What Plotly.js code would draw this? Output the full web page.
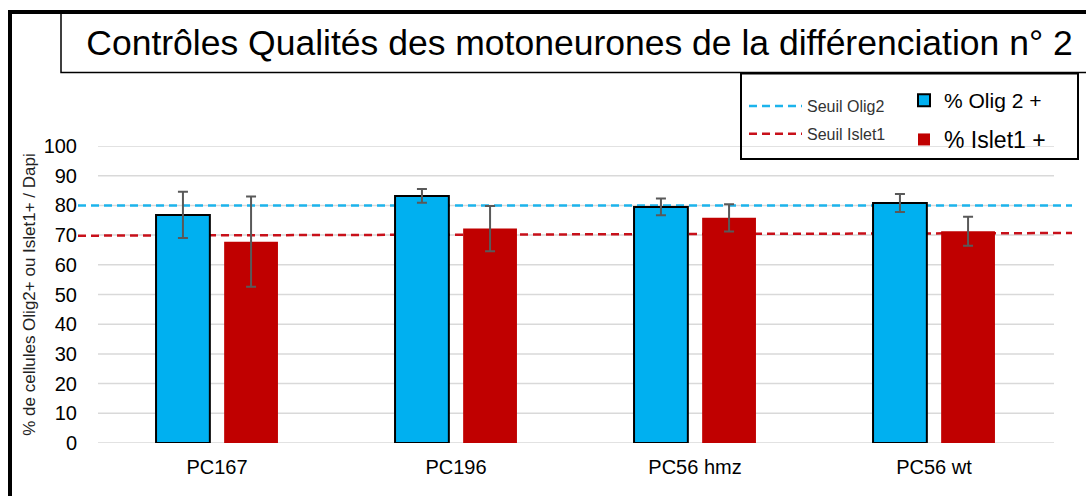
<!DOCTYPE html>
<html>
<head>
<meta charset="utf-8">
<script src="https://cdn.plot.ly/plotly-3.0.1.min.js"></script>
<style>html,body{margin:0;padding:0;background:#fff;}#chart{width:1086px;height:496px;}</style>
</head>
<body>
<div id="chart"></div>
<script>
// ---- data ----
const categories = ['PC167', 'PC196', 'PC56 hmz', 'PC56 wt'];
const olig2Values = [76.8, 83.2, 79.5, 80.8];
const olig2Errors = [7.8, 2.3, 2.8, 3.0];
const islet1Values = [67.8, 72.2, 75.8, 71.3];
const islet1Errors = [15.2, 7.6, 4.6, 4.9];
const seuilX = [0, 1];            // thresholds span the full width of the chart
const seuilOlig2 = [80, 80];
const seuilIslet1 = [69.8, 70.7];
const yTicks = [0, 10, 20, 30, 40, 50, 60, 70, 80, 90, 100];

// ---- geometry helpers (layout only) ----
const W = 1086, H = 496;
const mL = 78, mR = 14, mT = 146, mB = 53;
const pw = W - mL - mR, ph = H - mT - mB;
const px = x => (x - mL) / pw;
const py = y => (H - mB - y) / ph;
const catStep = 239, firstCat = 217;   // pixel spacing of categories

const FONT = 'Liberation Sans, Arial, sans-serif';

const traces = [
  {
    type: 'scatter', mode: 'lines', name: 'Seuil Olig2', x: seuilX, y: seuilOlig2,
    xaxis: 'x', yaxis: 'y',
    line: {color: '#1CB4EC', width: 2.5, dash: '8px,5px'},
    legend: 'legend', legendgroup: 'c', hoverinfo: 'skip'
  },
  {
    type: 'scatter', mode: 'lines', name: 'Seuil Islet1', x: seuilX, y: seuilIslet1,
    xaxis: 'x', yaxis: 'y',
    line: {color: '#C8101A', width: 2.5, dash: '8px,5px'},
    legend: 'legend', legendgroup: 'd', hoverinfo: 'skip'
  },
  {
    type: 'bar', name: '% Olig 2 +', x: categories, y: olig2Values, xaxis: 'x2', yaxis: 'y',
    marker: {color: '#00B0F0', line: {color: '#000000', width: 2}},
    error_y: {type: 'data', array: olig2Errors, visible: true, color: '#595959', thickness: 2, width: 5},
    legend: 'legend2', legendgroup: 'a'
  },
  {
    type: 'bar', name: '<span style="font-size:23px">% Islet1 +</span>', x: categories, y: islet1Values,
    xaxis: 'x2', yaxis: 'y',
    marker: {color: '#C00000', line: {color: '#C00000', width: 0}},
    error_y: {type: 'data', array: islet1Errors, visible: true, color: '#595959', thickness: 2, width: 5},
    legend: 'legend2', legendgroup: 'b'
  }
];

// gridlines only over the bar area
const gridShapes = yTicks.map(v => ({
  type: 'line', xref: 'paper', yref: 'y', x0: px(98), x1: px(1054), y0: v, y1: v,
  line: {color: '#D9D9D9', width: 1.5}, layer: 'below'
}));

const shapes = gridShapes.concat([
  // outer frame
  {type: 'path', xref: 'paper', yref: 'paper',
   path: `M ${px(10)} ${py(500)} L ${px(10)} ${py(12)} L ${px(1095)} ${py(12)}`,
   line: {color: '#000', width: 4}},
  // title box
  {type: 'rect', xref: 'paper', yref: 'paper', x0: px(61), x1: px(1095), y0: py(72.5), y1: py(13),
   line: {color: '#000', width: 1.5}},
  // legend box
  {type: 'rect', xref: 'paper', yref: 'paper', x0: px(741), x1: px(1078), y0: py(159), y1: py(73.5),
   line: {color: '#000', width: 2}}
]);

const layout = {
  width: W, height: H,
  margin: {l: mL, r: mR, t: mT, b: mB, pad: 0},
  paper_bgcolor: '#ffffff', plot_bgcolor: 'rgba(0,0,0,0)',
  font: {family: FONT, color: '#000'},
  title: {
    text: 'Contrôles Qualités des motoneurones de la différenciation n° 2',
    font: {family: FONT, size: 35.5, color: '#000'},
    x: 579.5 / W, xref: 'container', xanchor: 'center',
    y: 1 - 43 / H, yref: 'container', yanchor: 'middle'
  },
  barmode: 'group', bargap: 0.43, bargroupgap: 0.21,
  xaxis: {
    range: [0, 1], visible: false, showgrid: false, zeroline: false, fixedrange: true
  },
  xaxis2: {
    type: 'category', overlaying: 'x', anchor: 'y', side: 'bottom',
    range: [(mL - firstCat) / catStep, (W - mR - firstCat) / catStep],
    showgrid: false, zeroline: false, showline: false, ticks: '',
    tickfont: {family: FONT, size: 20, color: '#000'}, ticklabelstandoff: 10, fixedrange: true
  },
  yaxis: {
    range: [0, 100], tickvals: yTicks, ticktext: yTicks.map(String),
    showgrid: false, zeroline: false, showline: false, ticks: '',
    tickfont: {family: FONT, size: 20, color: '#000'}, ticklabelstandoff: 0,
    title: {text: '% de cellules Olig2+ ou Islet1+ / Dapi', font: {family: FONT, size: 17, color: '#222'}, standoff: 3},
    automargin: false, fixedrange: true
  },
  legend: {
    x: px(744), y: py(89), xanchor: 'left', yanchor: 'top', orientation: 'v',
    bgcolor: 'rgba(0,0,0,0)', borderwidth: 0, tracegroupgap: 4, itemwidth: 53,
    font: {family: FONT, size: 16, color: '#333'}
  },
  legend2: {
    x: px(904), y: py(80), xanchor: 'left', yanchor: 'top', orientation: 'v',
    bgcolor: 'rgba(0,0,0,0)', borderwidth: 0, tracegroupgap: 9, itemwidth: 30,
    font: {family: FONT, size: 21, color: '#000'}
  },
  showlegend: true,
  shapes: shapes
};

Plotly.newPlot('chart', traces, layout, {displayModeBar: false, staticPlot: true});
</script>
</body>
</html>
